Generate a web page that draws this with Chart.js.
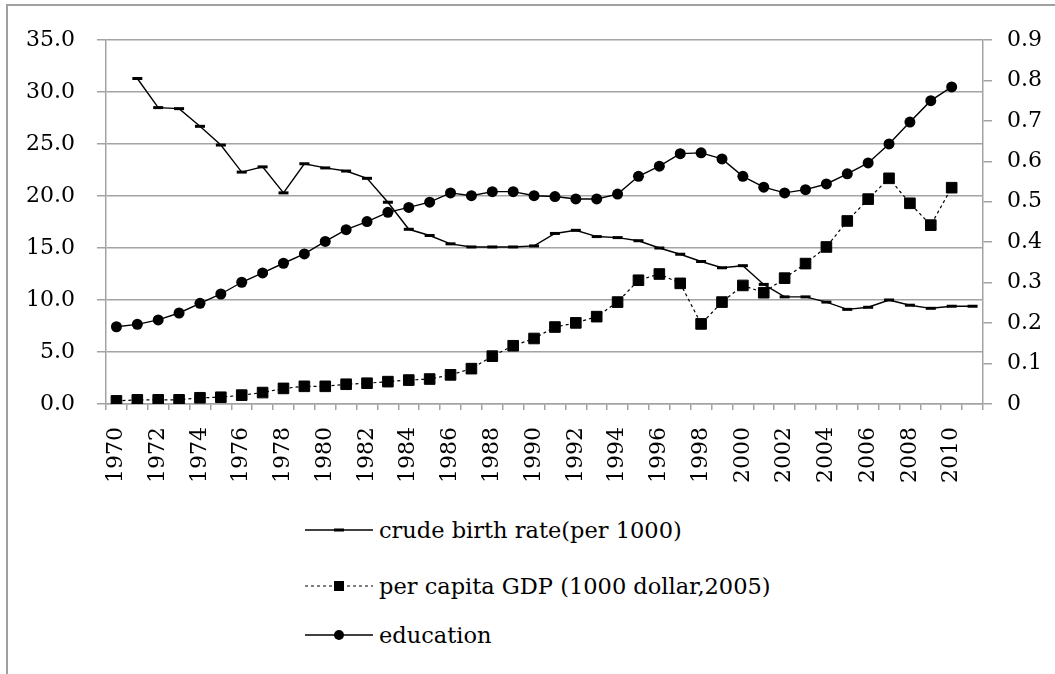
<!DOCTYPE html>
<html>
<head>
<meta charset="utf-8">
<script src="https://cdn.jsdelivr.net/npm/chart.js@4.4.1/dist/chart.umd.min.js"></script>
<style>
  body { margin: 0; background: #fff; font-family: 'DejaVu Serif', serif; }
  #wrap { position: relative; width: 1055px; height: 674px; overflow: hidden; }
  #frame { position: absolute; left: 6px; top: 4px; width: 1100px; height: 700px;
           border-left: 2px solid #a0a0a0; border-top: 2px solid #a0a0a0; }
  #c { position: absolute; left: 0; top: 0; }
  .leg { position: absolute; left: 305px; height: 26px; display: flex; align-items: center; font-size: 22.5px; color: #000; }
  .leg svg { margin-right: 6px; }
</style>
</head>
<body>
<div id="wrap">
  <div id="frame"></div>
  <canvas id="c" width="1055" height="500"></canvas>
  <div class="leg" style="top:517px">
    <svg width="68" height="12"><line x1="0" y1="6" x2="68" y2="6" stroke="#000" stroke-width="1.3"/><rect x="29" y="4.5" width="10" height="3" fill="#000"/></svg>
    crude birth rate(per 1000)
  </div>
  <div class="leg" style="top:573px">
    <svg width="68" height="12"><line x1="0" y1="6" x2="68" y2="6" stroke="#000" stroke-width="1.2" stroke-dasharray="3,3"/><rect x="29" y="1" width="10" height="10" fill="#000"/></svg>
    per capita GDP (1000 dollar,2005)
  </div>
  <div class="leg" style="top:622px">
    <svg width="68" height="12"><line x1="0" y1="6" x2="68" y2="6" stroke="#000" stroke-width="1.3"/><circle cx="34" cy="6" r="5" fill="#000"/></svg>
    education
  </div>
</div>
<script>
// years 1970-2011
const years = [];
for (let y = 1970; y <= 2011; y++) years.push(String(y));

const birthRate = [null, 31.3, 28.5, 28.4, 26.7, 24.9, 22.3, 22.8, 20.3, 23.1,
  22.7, 22.4, 21.7, 19.4, 16.8, 16.2, 15.4, 15.1, 15.1, 15.1,
  15.2, 16.4, 16.7, 16.1, 16.0, 15.7, 15.0, 14.4, 13.7, 13.1,
  13.3, 11.5, 10.3, 10.3, 9.8, 9.1, 9.3, 10.0, 9.5, 9.2,
  9.4, 9.4];

const gdp = [0.3, 0.4, 0.4, 0.4, 0.6, 0.65, 0.85, 1.1, 1.5, 1.7,
  1.7, 1.9, 2.0, 2.15, 2.3, 2.4, 2.8, 3.4, 4.6, 5.6,
  6.3, 7.4, 7.8, 8.4, 9.8, 11.9, 12.5, 11.6, 7.7, 9.8,
  11.4, 10.7, 12.1, 13.5, 15.1, 17.6, 19.7, 21.7, 19.3, 17.2,
  20.8, null];

const education = [0.191, 0.197, 0.208, 0.225, 0.249, 0.272, 0.301, 0.324, 0.348, 0.371,
  0.402, 0.431, 0.451, 0.474, 0.486, 0.499, 0.522, 0.515, 0.525, 0.525,
  0.515, 0.513, 0.507, 0.507, 0.519, 0.563, 0.588, 0.619, 0.621, 0.606,
  0.563, 0.536, 0.522, 0.530, 0.544, 0.569, 0.596, 0.643, 0.697, 0.750,
  0.784, null];

const gray = '#a3a3a3';
const tickFont = { family: 'DejaVu Serif', size: 22 };

new Chart(document.getElementById('c'), {
  type: 'line',
  data: {
    labels: years,
    datasets: [
      {
        label: 'crude birth rate(per 1000)',
        data: birthRate,
        yAxisID: 'y',
        borderColor: '#000',
        borderWidth: 1.4,
        pointStyle: 'line',
        pointRadius: 5,
        pointBorderWidth: 3,
        pointBorderColor: '#000',
        tension: 0
      },
      {
        label: 'per capita GDP (1000 dollar,2005)',
        data: gdp,
        yAxisID: 'y',
        borderColor: '#000',
        borderWidth: 1.2,
        borderDash: [3, 3],
        pointStyle: 'rect',
        pointRadius: 7.5,
        pointBackgroundColor: '#000',
        pointBorderColor: '#000',
        pointBorderWidth: 1,
        tension: 0
      },
      {
        label: 'education',
        data: education,
        yAxisID: 'y1',
        borderColor: '#000',
        borderWidth: 1.4,
        pointStyle: 'circle',
        pointRadius: 5.5,
        pointBackgroundColor: '#000',
        pointBorderColor: '#000',
        pointBorderWidth: 0,
        tension: 0
      }
    ]
  },
  options: {
    responsive: false,
    animation: false,
    devicePixelRatio: 1,
    layout: { padding: { top: 40, left: 0, right: 0, bottom: 0 } },
    plugins: { legend: { display: false }, tooltip: { enabled: false } },
    scales: {
      x: {
        offset: true,
        grid: { offset: true, drawOnChartArea: false, drawTicks: true, tickLength: 6, color: gray, lineWidth: 1.5 },
        border: { display: true, color: gray, width: 1.5 },
        ticks: {
          autoSkip: false, minRotation: 90, maxRotation: 90, padding: 17,
          color: '#000', font: tickFont,
          callback: function (v, i) { return i % 2 === 0 ? this.getLabelForValue(v) : ''; }
        },
        afterFit: s => { s.height = 96; }
      },
      y: {
        position: 'left',
        min: 0, max: 35,
        grid: { color: gray, lineWidth: 1.5, tickLength: 9 },
        border: { display: true, color: gray, width: 1.5 },
        ticks: { stepSize: 5, padding: 22, color: '#000', font: tickFont, callback: v => v.toFixed(1) },
        afterFit: s => { s.width = 106; }
      },
      y1: {
        position: 'right',
        min: 0, max: 0.9,
        grid: { drawOnChartArea: false, color: gray, lineWidth: 1.5, tickLength: 9 },
        border: { display: true, color: gray, width: 1.5 },
        ticks: { stepSize: 0.1, padding: 15, color: '#000', font: tickFont, callback: v => v === 0 ? '0' : v.toFixed(1) },
        afterFit: s => { s.width = 72; }
      }
    }
  }
});
</script>
</body>
</html>
